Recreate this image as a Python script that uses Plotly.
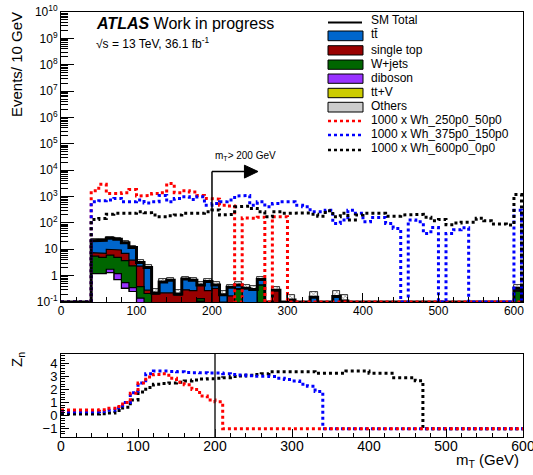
import plotly.graph_objects as go

# ---------------- data (bins of 10 GeV, lower edges 0..600) ----------------
bin_lo = list(range(0, 610, 10))

others = [0, 0, 0, 0, 1.2, 1.2, 1.3, 0.7, 0.33, 0.25,
          0, 0, 0, 0, 0, 0, 0, 0, 0, 0,
          0, 0, 0, 0, 0, 0, 0, 0, 0, 0,
          0, 0, 0, 0, 0, 0, 0, 0, 0, 0,
          0, 0, 0, 0, 0, 0, 0, 0, 0, 0,
          0, 0, 0, 0, 0, 0, 0, 0, 0, 0, 0]
ttv = [0, 0, 0, 0, 0, 0, 0, 0, 0, 0,
       0, 0, 0, 0, 0, 0, 0, 0, 0.105, 0,
       0, 0, 0, 0, 0, 0, 0, 0, 0, 0,
       0, 0, 0, 0, 0, 0, 0, 0, 0, 0,
       0, 0, 0, 0, 0, 0, 0, 0, 0, 0,
       0, 0, 0, 0, 0, 0, 0, 0, 0, 0, 0]
diboson = [0, 0, 0, 0, 0, 0, 0.45, 0.5, 0.21, 0.1,
           0.14, 0.03, 0, 0, 0, 0, 0, 0, 0, 0,
           0, 0, 0, 0, 0, 0, 0, 0, 0, 0,
           0, 0, 0, 0, 0, 0, 0, 0, 0, 0,
           0, 0, 0, 0, 0, 0, 0, 0, 0, 0,
           0, 0, 0, 0, 0, 0, 0, 0, 0, 0, 0]
wjets = [0, 0, 0, 0, 4.3, 3.7, 4.25, 3.7, 3.2, 2.0,
         0.24, 0.18, 0.03, 0.02, 0.02, 0, 0.04, 0.05, 0.03, 0.02,
         0.03, 0, 0, 0.3, 0, 0, 0.44, 0, 0, 0,
         0, 0, 0, 0, 0, 0, 0, 0, 0, 0,
         0, 0, 0, 0, 0, 0, 0, 0, 0, 0,
         0, 0, 0, 0, 0, 0, 0, 0, 0, 0, 0.26]
single_top = [0, 0, 0, 0, 1.9, 2.1, 4.0, 4.5, 3.3, 1.5,
              1.9, 0.07, 0.17, 0.2, 0.2, 0.18, 0.25, 0.22, 0.3, 0.25,
              0.3, 0.1, 0.17, 0.02, 0.02, 0.02, 0, 0, 0.28, 0,
              0, 0, 0, 0.02, 0, 0, 0.02, 0.11, 0, 0,
              0, 0, 0, 0, 0, 0, 0, 0, 0, 0,
              0, 0, 0, 0, 0, 0, 0, 0, 0, 0, 0.02]
ttbar = [0, 0, 0, 0, 13.6, 15.0, 16.0, 14.6, 10.8, 7.8,
         0.9, 1.75, 0.02, 0.35, 0.45, 0.02, 0.45, 0.4, 0.01, 0.33,
         0.11, 0.09, 0.19, 0.12, 0.31, 0.28, 0.28, 0, 0, 0,
         0.12, 0, 0, 0.13, 0, 0, 0.14, 0, 0, 0,
         0, 0, 0, 0, 0, 0, 0, 0, 0, 0,
         0, 0, 0, 0, 0, 0, 0, 0, 0, 0, 0.05]
sm_err = [0, 0, 0, 0, 3.2, 3.3, 4.0, 3.6, 2.8, 1.8,
          0.6, 0.4, 0.08, 0.15, 0.17, 0.08, 0.18, 0.17, 0.12, 0.15,
          0.12, 0.07, 0.1, 0.12, 0.1, 0.1, 0.2, 0, 0.1, 0,
          0.07, 0, 0, 0.08, 0, 0, 0.1, 0.08, 0, 0,
          0, 0, 0, 0, 0, 0, 0, 0, 0, 0,
          0, 0, 0, 0, 0, 0, 0, 0, 0, 0, 0.1]

sig_250_50 = [0, 0, 0, 0, 1660, 2900, 1300, 1300, 1400, 1850,
              1050, 1100, 1300, 1400, 3150, 1400, 1650, 1500, 1100, 850,
              800, 470, 440, 0, 155, 150, 165, 0, 170, 170,
              0, 0, 0, 0, 0, 0, 0, 0, 0, 0,
              0, 0, 0, 0, 0, 0, 0, 0, 0, 0,
              0, 0, 0, 0, 0, 0, 0, 0, 0, 0, 0]
sig_375_150 = [0, 0, 0, 0, 630, 690, 740, 850, 630, 630,
               740, 575, 630, 1100, 630, 850, 980, 780, 980, 470,
               540, 630, 740, 1050, 1100, 470, 630, 410, 540, 630,
               630, 470, 410, 265, 265, 300, 95, 130, 300, 230,
               110, 160, 160, 95, 62, 0, 130, 110, 40, 67,
               0, 40, 55, 65, 0, 0, 0, 0, 0, 0, 300]
sig_600_0 = [0, 0, 0, 0, 135, 148, 215, 230, 230, 230,
             265, 245, 200, 170, 185, 200, 230, 245, 230, 265,
             310, 200, 210, 410, 430, 355, 265, 170, 265, 230,
             245, 245, 240, 215, 180, 290, 170, 230, 130, 200,
             230, 230, 230, 180, 180, 200, 200, 210, 165, 120,
             135, 85, 100, 107, 107, 150, 120, 90, 90, 83, 1200]

zn_cut = list(range(0, 610, 10))
zn_250_50 = [0.43, 0.43, 0.43, 0.43, 0.43, 0.45, 0.55, 0.7, 1.0, 1.7,
             2.5, 2.95, 3.15, 3.2, 2.85, 2.55, 2.35, 2.0, 1.5, 1.2,
             1.05, -1, -1, -1, -1, -1, -1, -1, -1, -1,
             -1, -1, -1, -1, -1, -1, -1, -1, -1, -1,
             -1, -1, -1, -1, -1, -1, -1, -1, -1, -1,
             -1, -1, -1, -1, -1, -1, -1, -1, -1, -1, -1]
zn_375_150 = [0.3, 0.3, 0.3, 0.3, 0.3, 0.32, 0.4, 0.6, 1.0, 1.75,
              2.5, 3.2, 3.4, 3.4, 3.38, 3.35, 3.3, 3.28, 3.27, 3.25,
              3.25, 3.2, 3.15, 3.1, 3.05, 3.0, 3.0, 2.98, 2.85, 2.75,
              2.65, 2.4, 2.25, 1.85, -1, -1, -1, -1, -1, -1,
              -1, -1, -1, -1, -1, -1, -1, -1, -1, -1,
              -1, -1, -1, -1, -1, -1, -1, -1, -1, -1, -1]
zn_600_0 = [0.12, 0.12, 0.12, 0.12, 0.12, 0.14, 0.2, 0.38, 0.63, 1.2,
            1.8, 2.15, 2.4, 2.45, 2.5, 2.55, 2.65, 2.72, 2.8, 2.82,
            2.85, 2.9, 2.98, 3.03, 3.08, 3.15, 3.2, 3.36, 3.36, 3.36,
            3.36, 3.36, 3.36, 3.23, 3.23, 3.23, 3.23, 3.4, 3.4, 3.4,
            3.23, 3.23, 3.23, 2.9, 2.9, 2.9, 2.66, -1, -1, -1,
            -1, -1, -1, -1, -1, -1, -1, -1, -1, -1, -1]

y_tickvals = [0.1, 1, 10, 1e2, 1e3, 1e4, 1e5, 1e6, 1e7, 1e8, 1e9, 1e10]
y_ticktext = ["10<sup>-1</sup>", "1", "10", "10<sup>2</sup>", "10<sup>3</sup>", "10<sup>4</sup>",
              "10<sup>5</sup>", "10<sup>6</sup>", "10<sup>7</sup>", "10<sup>8</sup>",
              "10<sup>9</sup>", "10<sup>10</sup>"]
x_tickvals = [0, 100, 200, 300, 400, 500, 600]
zn_tickvals = [-1, 0, 1, 2, 3, 4]
zn_ticktext = ["\u22121", "0", "1", "2", "3", "4"]

# ---------------- geometry helpers ----------------
W, H = 533, 475
ML, MR, MT, MB = 61, 10, 12, 38
PW, PH = W - ML - MR, H - MT - MB
def pxx(x):
    return (x - ML) / PW
def pxy(y):
    return (H - MB - y) / PH

FONT = "Liberation Sans, Arial, Helvetica, sans-serif"
FLOOR = 0.1      # lines resting on the axis
DEEP = 1e-3      # below the visible range (clipped)
BW = 10
n = len(bin_lo)
edges = bin_lo + [bin_lo[-1] + BW]

def step_path(vals, floor):
    xs, ys = [edges[0]], [floor]
    for lo, v in zip(bin_lo, vals):
        vv = v if v > 0 else floor
        xs += [lo, lo + BW]
        ys += [vv, vv]
    xs.append(edges[-1])
    ys.append(floor)
    return xs, ys

fig = go.Figure()

# stacked backgrounds: cumulative areas, drawn largest first
stack_bottom_up = [others, ttv, diboson, wjets, single_top, ttbar]
colors_bottom_up = ["white", "#cccc00", "#9933ff", "#006600", "#990000", "#0066cc"]
cums = []
run = [0.0] * n
for comp in stack_bottom_up:
    run = [a + b for a, b in zip(run, comp)]
    cums.append(run)
for vals, col in reversed(list(zip(cums, colors_bottom_up))):
    xs, ys = step_path(vals, DEEP)
    fig.add_trace(go.Scatter(x=xs, y=ys, mode="lines", fill="toself", fillcolor=col,
                             line=dict(color="black", width=1.2),
                             xaxis="x", yaxis="y", showlegend=False, hoverinfo="skip"))

total = cums[-1]
# uncertainty hatch boxes
sel = [i for i in range(n) if total[i] > 0 and sm_err[i] > 0]
fig.add_trace(go.Bar(
    x=[bin_lo[i] + BW / 2 for i in sel],
    base=[total[i] - sm_err[i] for i in sel],
    y=[2 * sm_err[i] for i in sel],
    width=BW,
    marker=dict(color="white", line=dict(color="black", width=0.8),
                pattern=dict(shape="x", fgcolor="black", size=3, solidity=0.35)),
    xaxis="x", yaxis="y", showlegend=False, hoverinfo="skip"))

# SM total thick outline
sx, sy = step_path(total, FLOOR)
fig.add_trace(go.Scatter(x=sx, y=sy, mode="lines", line=dict(color="black", width=3),
                         xaxis="x", yaxis="y", showlegend=False, hoverinfo="skip"))

for vals, col in [(sig_250_50, "#ff0000"), (sig_375_150, "#0000ff"), (sig_600_0, "black")]:
    gx, gy = step_path(vals, FLOOR)
    fig.add_trace(go.Scatter(x=gx, y=gy, mode="lines",
                             line=dict(color=col, width=3, dash="dot"),
                             xaxis="x", yaxis="y", showlegend=False, hoverinfo="skip"))

for vals, col in [(zn_600_0, "black"), (zn_375_150, "#0000ff"), (zn_250_50, "#ff0000")]:
    fig.add_trace(go.Scatter(x=zn_cut, y=vals, mode="lines",
                             line=dict(color=col, width=3, dash="dot", shape="hv"),
                             xaxis="x2", yaxis="y2", showlegend=False, hoverinfo="skip"))

# ---------------- layout ----------------
axis_common = dict(showline=True, linecolor="black", linewidth=1, mirror=True,
                   showgrid=False, zeroline=False, ticks="inside", tickcolor="black",
                   automargin=False, ticklabeloverflow="allow")
minor_logvals = [k * 10 ** e for e in range(-1, 10) for k in range(2, 10)]

fig.update_layout(
    width=W, height=H,
    margin=dict(l=ML, r=MR, t=MT, b=MB),
    paper_bgcolor="white", plot_bgcolor="white",
    font=dict(family=FONT, color="black"),
    barmode="overlay", bargap=0,
    xaxis=dict(domain=[0, 1], anchor="y", range=[0, 612], tickvals=x_tickvals,
               ticklen=9, tickfont=dict(size=12), ticklabelstandoff=-2,
               minor=dict(dtick=20, tick0=0, ticks="inside", ticklen=5, tickcolor="black"),
               **axis_common),
    yaxis=dict(domain=[pxy(302), 1], anchor="x", type="log", range=[-1, 10],
               tickvals=y_tickvals, ticktext=y_ticktext, ticklen=13, tickfont=dict(size=12),
               minor=dict(tickvals=minor_logvals, ticks="inside", ticklen=7, tickcolor="black"),
               **axis_common),
    xaxis2=dict(domain=[0, 1], anchor="y2", range=[0, 600], tickvals=x_tickvals,
                ticklen=8, tickfont=dict(size=14), ticklabelstandoff=-4,
                minor=dict(dtick=20, tick0=0, ticks="inside", ticklen=4, tickcolor="black"),
                **axis_common),
    yaxis2=dict(domain=[0, pxy(354)], anchor="x2", range=[-1.64, 4.71],
                tickvals=zn_tickvals, ticktext=zn_ticktext, ticklen=8, tickfont=dict(size=13),
                minor=dict(dtick=0.2, tick0=0, ticks="inside", ticklen=4, tickcolor="black"),
                **axis_common),
)

def ldom(v):
    # log10 value -> y domain fraction of the upper panel
    return (v + 1) / 11.0

shapes = []
shapes.append(dict(type="line", xref="x", yref="y domain", x0=200, x1=200, y0=0, y1=ldom(3.95),
                   line=dict(color="black", width=1.5)))
shapes.append(dict(type="line", xref="x", yref="y domain", x0=200, x1=244, y0=ldom(3.95), y1=ldom(3.95),
                   line=dict(color="black", width=1.5)))
shapes.append(dict(type="path", xref="x", yref="y domain",
                   path=f"M 243,{ldom(4.19)} L 243,{ldom(3.70)} L 261,{ldom(3.95)} Z",
                   fillcolor="black", line=dict(color="black", width=1)))
shapes.append(dict(type="line", xref="x2", yref="y2 domain", x0=200, x1=200, y0=0, y1=1,
                   line=dict(color="#222222", width=1.5)))

# legend (drawn by hand, ROOT style)
lx0, lx1 = 328, 362
shapes.append(dict(type="line", xref="paper", yref="paper", x0=pxx(lx0), x1=pxx(lx1),
                   y0=pxy(22.5), y1=pxy(22.5), line=dict(color="black", width=2)))
leg_boxes = [("#0066cc", 31, 40.7), ("#990000", 45.7, 55), ("#006600", 60, 69.3),
             ("#9933ff", 74, 83.3), ("#cccc00", 88.3, 97.7), ("#cccccc", 102.3, 112)]
for col, y0, y1 in leg_boxes:
    shapes.append(dict(type="rect", xref="paper", yref="paper", x0=pxx(lx0), x1=pxx(lx1 + 1),
                       y0=pxy(y1), y1=pxy(y0), fillcolor=col, line=dict(color="black", width=1)))
for col, yy in [("#ff0000", 121), ("#0000ff", 135), ("black", 150)]:
    shapes.append(dict(type="line", xref="paper", yref="paper", x0=pxx(lx0), x1=pxx(lx1),
                       y0=pxy(yy), y1=pxy(yy), line=dict(color=col, width=2.5, dash="dot")))

leg_labels = [("SM Total", 20), ("tt\u0304", 34), ("single top", 49.5), ("W+jets", 63.5),
              ("diboson", 78), ("tt+V", 92), ("Others", 106), ("1000 x Wh_250p0_50p0", 119.5),
              ("1000 x Wh_375p0_150p0", 133.5), ("1000 x Wh_600p0_0p0", 148)]
annotations = []
for txt, yy in leg_labels:
    annotations.append(dict(text=txt, xref="paper", yref="paper", x=pxx(369), y=pxy(yy),
                            xanchor="left", yanchor="middle", showarrow=False,
                            font=dict(size=12, family=FONT, color="black")))

annotations += [
    dict(text="<b><i>ATLAS</i></b> Work in progress", xref="paper", yref="paper",
         x=pxx(94), y=pxy(24), xanchor="left", yanchor="middle", showarrow=False,
         font=dict(size=16, family=FONT, color="black")),
    dict(text="\u221as = 13 TeV, 36.1 fb<sup>-1</sup>", xref="paper", yref="paper",
         x=pxx(94), y=pxy(43), xanchor="left", yanchor="middle", showarrow=False,
         font=dict(size=12, family=FONT, color="black")),
    dict(text="Events/ 10 GeV", xref="paper", yref="paper", x=pxx(16), y=pxy(65),
         xanchor="center", yanchor="middle", textangle=-90, showarrow=False,
         font=dict(size=15, family=FONT, color="black")),
    dict(text="Z<sub>n</sub>", xref="paper", yref="paper", x=pxx(17), y=pxy(360),
         xanchor="center", yanchor="middle", textangle=-90, showarrow=False,
         font=dict(size=15, family=FONT, color="black")),
    dict(text="m<sub>T</sub> (GeV)", xref="paper", yref="paper", x=pxx(521), y=pxy(461),
         xanchor="right", yanchor="middle", showarrow=False,
         font=dict(size=15, family=FONT, color="black")),
    dict(text="m<sub>T</sub>> 200 GeV", xref="x", yref="y domain", x=201, y=ldom(4.55),
         xanchor="left", yanchor="middle", showarrow=False,
         font=dict(size=10, family=FONT, color="black")),
]

fig.update_layout(shapes=shapes, annotations=annotations)
fig.write_html("out.html", config={"displayModeBar": False},
               post_script="document.body.style.margin='0px';document.body.style.overflow='hidden';")
